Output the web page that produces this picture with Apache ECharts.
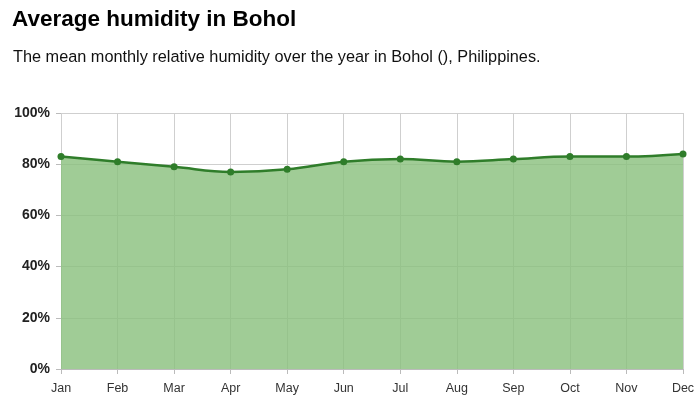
<!DOCTYPE html>
<html><head><meta charset="utf-8">
<script src="https://cdn.jsdelivr.net/npm/echarts@6/dist/echarts.min.js"></script>
<style>html,body{margin:0;padding:0;background:#fff}#c{width:700px;height:410px}</style>
</head><body><div id="c"></div>
<script>
const months = ['Jan','Feb','Mar','Apr','May','Jun','Jul','Aug','Sep','Oct','Nov','Dec'];
const humidity = [83, 81, 79, 77, 78, 81, 82, 81, 82, 83, 83, 84];
const yTicks = [0, 20, 40, 60, 80, 100];
const titleText = 'Average humidity in Bohol';
const subtitleText = 'The mean monthly relative humidity over the year in Bohol (), Philippines.';

const FF = 'Liberation Sans, Arial, Helvetica, sans-serif';
const chart = echarts.init(document.getElementById('c'));
chart.setOption({
  animation: false,
  textStyle: {fontFamily: FF},
  title: [
    {text: titleText, left: 7, top: 3, textStyle: {fontSize: 22.5, fontWeight: 'bold', color: '#000', fontFamily: FF}},
    {text: subtitleText, left: 8, top: 45, textStyle: {fontSize: 16.3, fontWeight: 'normal', color: '#111', fontFamily: FF}}
  ],
  grid: {left: 61, right: 17, top: 113, bottom: 41},
  xAxis: {
    type: 'category', data: months, boundaryGap: false,
    axisLine: {lineStyle: {color: '#bbb'}},
    axisTick: {show: true, length: 5, lineStyle: {color: '#bbb'}},
    axisLabel: {color: '#333', fontSize: 12.5, margin: 13},
    splitLine: {show: true, lineStyle: {color: '#cfcfcf'}}
  },
  yAxis: {
    type: 'value', min: 0, max: 100, interval: 20,
    axisLine: {show: false},
    axisTick: {show: true, length: 5, lineStyle: {color: '#bbb'}},
    axisLabel: {color: '#222', fontSize: 14, fontWeight: 'bold', margin: 11, formatter: v => yTicks.includes(v) ? v + '%' : ''},
    splitLine: {show: true, lineStyle: {color: '#cfcfcf'}}
  },
  series: [{
    type: 'line', data: humidity, smooth: 0.4,
    symbol: 'circle', symbolSize: 7,
    itemStyle: {color: '#2f7d2a'},
    lineStyle: {color: '#2f7d2a', width: 2.5},
    areaStyle: {color: 'rgb(136,191,124)', opacity: 0.8}
  }]
});
</script></body></html>
